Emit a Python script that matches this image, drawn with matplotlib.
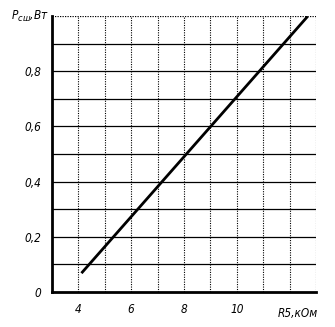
import matplotlib
matplotlib.use("Agg")
import matplotlib.pyplot as plt
import numpy as np

# data
r5_kohm = [4.15, 12.65]
p_sw = [0.072, 0.995]

x_ticks = [4, 6, 8, 10]
x_tick_labels = ["4", "6", "8", "10"]
y_ticks = [0, 0.2, 0.4, 0.6, 0.8]
y_tick_labels = ["0", "0,2", "0,4", "0,6", "0,8"]

fig = plt.figure(figsize=(3.35, 3.27), dpi=100)
ax = fig.add_axes([52/335, 1-292/327, (316-52)/335, (292-16)/327])
ax.set_xlim(3, 13)
ax.set_ylim(0, 1.0)

# grid
for xv in np.arange(4, 13, 1):
    ax.axvline(xv, color="black", lw=0.8, ls=(0, (1, 1.2)), zorder=1)
for yv in np.arange(0.1, 1.0, 0.1):
    ax.axhline(yv, color="black", lw=0.9, ls="-", zorder=1)
ax.axhline(1.0, color="black", lw=0.9, ls=(0, (1, 1)), zorder=1)
ax.axvline(13, color="black", lw=0.8, ls=(0, (1, 1.2)), zorder=1)

ax.plot(r5_kohm, p_sw, color="black", lw=2.0, zorder=3)

for s in ["top", "right"]:
    ax.spines[s].set_visible(False)
ax.spines["left"].set_linewidth(2.0)
ax.spines["bottom"].set_linewidth(2.0)

fp = dict(family="DejaVu Sans", style="italic", stretch="condensed", size=8.5)
ax.set_xticks(x_ticks)
ax.set_xticklabels(x_tick_labels, **fp)
ax.set_yticks(y_ticks)
ax.set_yticklabels(y_tick_labels, **fp)
ax.tick_params(length=0, pad=8)
ax.tick_params(axis="y", pad=8)

ax.text(12.3, -0.055, "R5,кОм", ha="center", va="top", **fp)
ax.text(-0.01, 1.0, "P$_{сш}$,Вт", ha="right", va="center", transform=ax.get_yaxis_transform(), **fp)

fig.savefig("out.png", dpi=100)
